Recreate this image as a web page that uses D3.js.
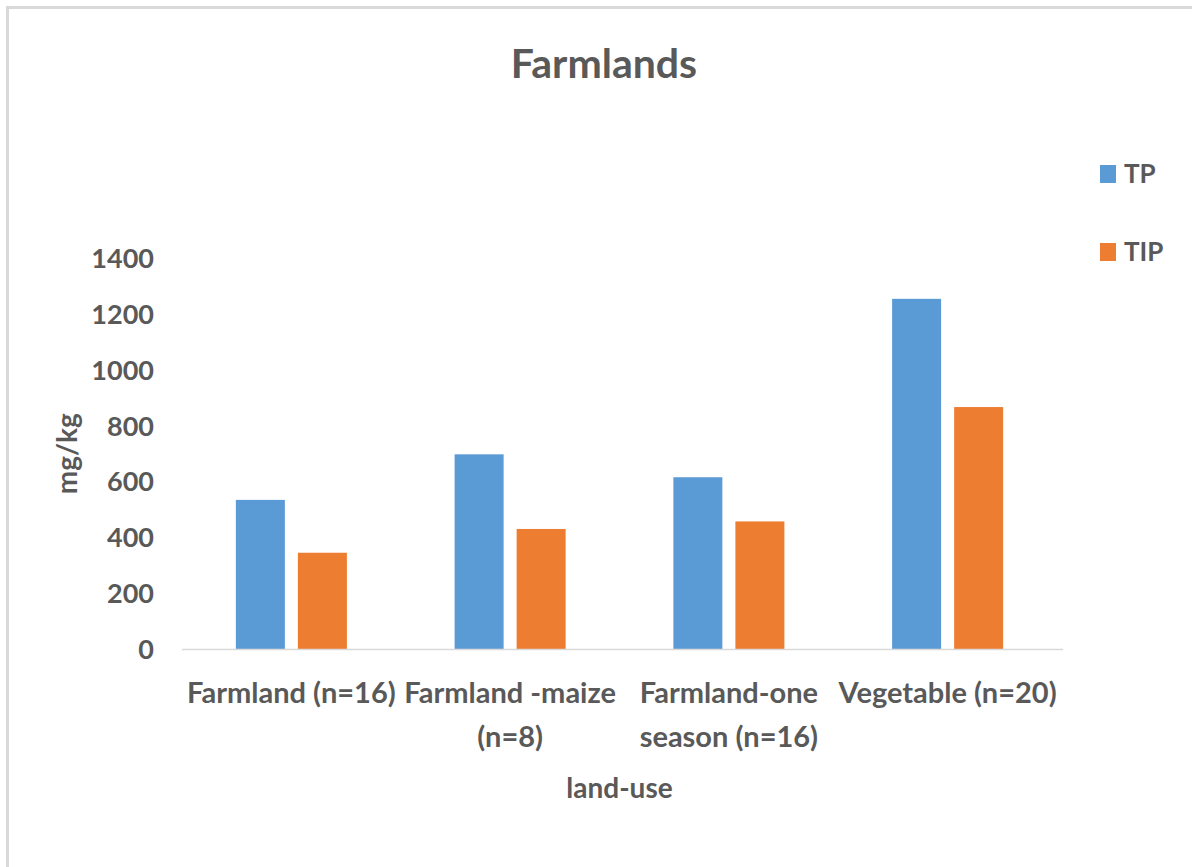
<!DOCTYPE html>
<html>
<head>
<meta charset="utf-8">
<script src="https://cdn.jsdelivr.net/npm/d3@7"></script>
<style>
	body { margin: 0; background: #fff; }
	svg text { font-family: Lato, "Open Sans", sans-serif; fill: #595959; font-weight: bold; }
</style>
</head>
<body>
<div id="chart"></div>
<script>
// chart data
const categories = ["Farmland (n=16)", "Farmland -maize (n=8)", "Farmland-one season (n=16)", "Vegetable (n=20)"];
const categoryLines = [["Farmland (n=16)"], ["Farmland -maize", "(n=8)"], ["Farmland-one", "season (n=16)"], ["Vegetable (n=20)"]];
const series = ["TP", "TIP"];
const tpValues = [535, 698, 616, 1254];
const tipValues = [346, 431, 458, 867];
const yTicks = [0, 200, 400, 600, 800, 1000, 1200, 1400];

const width = 1192, height = 867;
const colors = {TP: "#5B9BD5", TIP: "#ED7D31"};

let svg = d3.select("#chart").append("svg")
	.attr("width", width)
	.attr("height", height);

// chart border (only left and top visible)
svg.append("rect")
	.attr("x", 7.5).attr("y", 7.5)
	.attr("width", width + 20).attr("height", height + 20)
	.attr("fill", "none")
	.attr("stroke", "#d9d9d9")
	.attr("stroke-width", 3);

//scales
let x0 = d3.scaleBand()
	.domain(categories)
	.range([182, 1057])
	.paddingInner(0.4925)
	.paddingOuter(0.4925 / 2);

let x1 = d3.scaleBand()
	.domain(series)
	.range([0, x0.bandwidth()])
	.paddingInner(0.21);

let y = d3.scaleLinear()
	.domain([0, 1400])
	.range([649.5, 258]);

let rows = categories.map(function(c, i) { return {cat: c, TP: tpValues[i], TIP: tipValues[i]}; });

// bars
let groups = svg.selectAll(".grp")
	.data(rows)
	.enter().append("g")
	.attr("transform", function(d) { return "translate(" + x0(d.cat) + ",0)"; });

groups.selectAll("rect")
	.data(function(d) { return series.map(function(s) { return {key: s, value: d[s]}; }); })
	.enter().append("rect")
	.attr("x", function(d) { return x1(d.key); })
	.attr("y", function(d) { return y(d.value); })
	.attr("width", x1.bandwidth())
	.attr("height", function(d) { return y(0) - y(d.value); })
	.attr("fill", function(d) { return colors[d.key]; });

// x axis line
svg.append("line")
	.attr("x1", 182).attr("x2", 1063)
	.attr("y1", y(0)).attr("y2", y(0))
	.attr("stroke", "#d9d9d9")
	.attr("stroke-width", 1.5);

// y tick labels
svg.selectAll(".ytick")
	.data(yTicks)
	.enter().append("text")
	.attr("x", 154)
	.attr("y", function(d) { return y(d); })
	.attr("dy", "0.36em")
	.attr("text-anchor", "end")
	.attr("font-size", "27px")
	.text(function(d) { return d; });

// x tick labels
categories.forEach(function(c, i) {
	let t = svg.append("text")
		.attr("text-anchor", "middle")
		.attr("font-size", "29px");
	categoryLines[i].forEach(function(line, j) {
		t.append("tspan")
			.attr("x", x0(c) + x0.bandwidth() / 2)
			.attr("y", 703 + j * 44)
			.text(line);
	});
});

// axis titles
svg.append("text")
	.attr("x", (182 + 1057) / 2)
	.attr("y", 798)
	.attr("text-anchor", "middle")
	.attr("font-size", "28px")
	.text("land-use");

svg.append("text")
	.attr("transform", "translate(77," + (y(0) + y(1400)) / 2 + ") rotate(-90)")
	.attr("text-anchor", "middle")
	.attr("font-size", "28px")
	.text("mg/kg");

// title
svg.append("text")
	.attr("x", 604)
	.attr("y", 78)
	.attr("text-anchor", "middle")
	.attr("font-size", "41px")
	.text("Farmlands");

// legend
let legend = svg.selectAll(".leg")
	.data(series)
	.enter().append("g")
	.attr("transform", function(d, i) { return "translate(1100," + (165 + i * 78) + ")"; });

legend.append("rect")
	.attr("width", 16).attr("height", 18)
	.attr("fill", function(d) { return colors[d]; });

legend.append("text")
	.attr("x", 24)
	.attr("y", 9)
	.attr("dy", "0.36em")
	.attr("font-size", "26px")
	.text(function(d) { return d; });
</script>
</body>
</html>
